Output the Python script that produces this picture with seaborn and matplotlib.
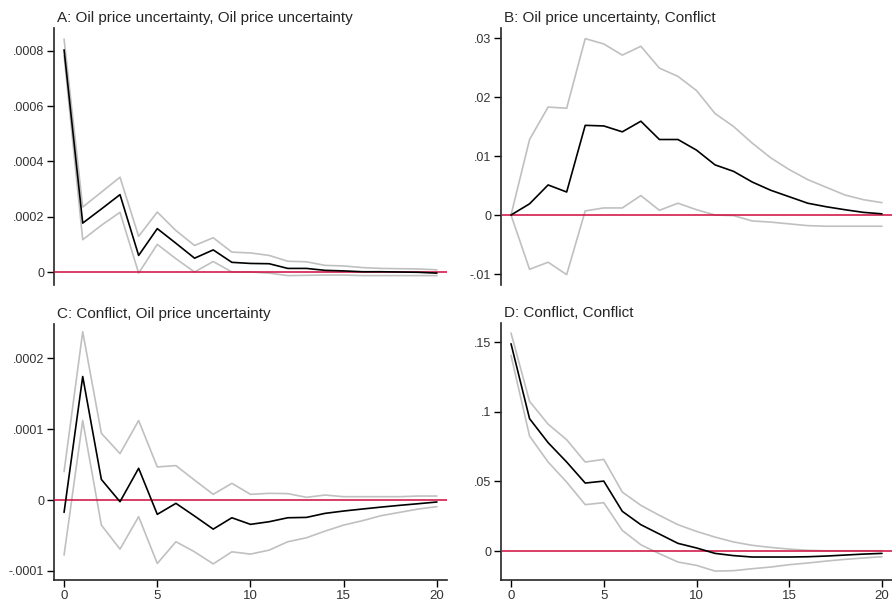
import matplotlib
matplotlib.use("Agg")
import matplotlib.pyplot as plt
import seaborn as sns
import pandas as pd

steps = list(range(21))

# A: Oil price uncertainty -> Oil price uncertainty
a_irf = [0.000804, 0.000177, 0.000228, 0.000280, 0.000060, 0.000157, 0.000104, 0.000050,
         0.000080, 0.000035, 0.000031, 0.000030, 0.000013, 0.000013, 0.000006, 0.000004,
         0.000001, 0.000001, 0.0, -0.000001, -0.000004]
a_upper = [0.000843, 0.000235, 0.000289, 0.000343, 0.000129, 0.000217, 0.000150, 0.000096,
           0.000124, 0.000072, 0.000069, 0.000060, 0.000039, 0.000037, 0.000024, 0.000022,
           0.000016, 0.000013, 0.000012, 0.000011, 0.000008]
a_lower = [0.000783, 0.000117, 0.000169, 0.000216, -0.000004, 0.000100, 0.000048, 0.0,
           0.000038, 0.0, 0.0, -0.000004, -0.000013, -0.000012, -0.000011, -0.000011,
           -0.000013, -0.000013, -0.000013, -0.000013, -0.000013]

# B: Oil price uncertainty -> Conflict
b_irf = [0.0, 0.0019, 0.0051, 0.0039, 0.0152, 0.0151, 0.0141, 0.0159, 0.0128, 0.0128, 0.0110,
         0.0085, 0.0074, 0.0056, 0.0042, 0.0031, 0.0020, 0.0014, 0.0009, 0.00045, 0.0002]
b_upper = [0.0, 0.0128, 0.0183, 0.0181, 0.0299, 0.0290, 0.0271, 0.0286, 0.0249, 0.0235, 0.0211,
           0.0172, 0.0150, 0.0122, 0.0097, 0.0077, 0.0060, 0.0047, 0.0034, 0.0026, 0.0021]
b_lower = [0.0, -0.0092, -0.0080, -0.0101, 0.0007, 0.0012, 0.0012, 0.0033, 0.0008, 0.0020, 0.0009,
           0.0, -0.0001, -0.0010, -0.0012, -0.0015, -0.0018, -0.0019, -0.0019, -0.0019, -0.0019]

# C: Conflict -> Oil price uncertainty
c_irf = [-0.0000174, 0.000174, 0.000029, -0.0000024, 0.0000447, -0.0000202, -0.0000047,
         -0.0000226, -0.000041, -0.000025, -0.0000343, -0.0000306, -0.000025, -0.0000245,
         -0.0000188, -0.0000155, -0.0000127, -0.00001, -0.0000075, -0.0000052, -0.0000028]
c_upper = [0.00004, 0.000237, 0.000094, 0.0000654, 0.000112, 0.0000466, 0.0000485, 0.000028,
           0.000008, 0.0000235, 0.000008, 0.0000094, 0.000009, 0.0000038, 0.000007, 0.0000047,
           0.0000047, 0.0000047, 0.0000047, 0.0000056, 0.0000056]
c_lower = [-0.0000776, 0.000112, -0.0000353, -0.0000692, -0.0000235, -0.0000894, -0.0000588,
           -0.000073, -0.00009, -0.000073, -0.0000762, -0.0000706, -0.0000588, -0.0000532,
           -0.0000438, -0.0000353, -0.0000292, -0.0000221, -0.0000174, -0.0000127, -0.0000094]

# D: Conflict -> Conflict
d_irf = [0.1488, 0.0950, 0.0778, 0.0639, 0.0488, 0.0502, 0.0285, 0.0189, 0.0122, 0.0055, 0.0022,
         -0.0017, -0.0033, -0.0043, -0.0043, -0.0043, -0.0041, -0.0036, -0.0029, -0.0022, -0.0017]
d_upper = [0.1565, 0.1074, 0.0911, 0.0799, 0.0639, 0.0658, 0.0423, 0.0328, 0.0256, 0.0189, 0.0141,
           0.0100, 0.0065, 0.0041, 0.0026, 0.0014, 0.0005, 0.0002, 0.0002, 0.0002, 0.0002]
d_lower = [0.1404, 0.0825, 0.0639, 0.0495, 0.0333, 0.0347, 0.0148, 0.0045, -0.0019, -0.0079, -0.0103,
           -0.0144, -0.0141, -0.0127, -0.0115, -0.0098, -0.0086, -0.0072, -0.0060, -0.0050, -0.0041]

PANELS = [
    ("A: Oil price uncertainty, Oil price uncertainty", a_irf, a_upper, a_lower,
     [0, 0.0002, 0.0004, 0.0006, 0.0008], ["0", ".0002", ".0004", ".0006", ".0008"], (-0.000047, 0.000883)),
    ("B: Oil price uncertainty, Conflict", b_irf, b_upper, b_lower,
     [-0.01, 0, 0.01, 0.02, 0.03], ["-.01", "0", ".01", ".02", ".03"], (-0.01186, 0.0317)),
    ("C: Conflict, Oil price uncertainty", c_irf, c_upper, c_lower,
     [-0.0001, 0, 0.0001, 0.0002], ["-.0001", "0", ".0001", ".0002"], (-0.0001127, 0.000248)),
    ("D: Conflict, Conflict", d_irf, d_upper, d_lower,
     [0, 0.05, 0.1, 0.15], ["0", ".05", ".1", ".15"], (-0.0208, 0.1637)),
]

# axes boxes in pixels: left, top, right, bottom
BOXES = [(54, 28, 447, 285), (501, 28, 892, 285), (54, 324, 447, 580), (501, 323, 892, 580)]
W, H = 892, 603

sns.set_style("ticks")
plt.rcParams['font.family'] = ['Liberation Sans', 'DejaVu Sans']

fig = plt.figure(figsize=(W / 100, H / 100), dpi=100)

for i, (title, irf, upper, lower, yt, ytl, ylim) in enumerate(PANELS):
    l, t, r, b = BOXES[i]
    ax = fig.add_axes([l / W, 1 - b / H, (r - l) / W, (b - t) / H])
    df = pd.DataFrame({"step": steps * 3,
                       "value": upper + lower + irf,
                       "series": ["upper"] * 21 + ["lower"] * 21 + ["irf"] * 21})
    bands = df[df.series != "irf"]
    sns.lineplot(data=bands, x="step", y="value", hue="series",
                 palette={"upper": "#c0c0c0", "lower": "#c0c0c0"},
                 linewidth=1.2, legend=False, ax=ax, zorder=2)
    ax.axhline(0, color="#d00a3c", linewidth=1.1, zorder=3)
    sns.lineplot(data=df[df.series == "irf"], x="step", y="value", color="black",
                 linewidth=1.2, legend=False, ax=ax, zorder=4)

    ax.set_xlim(-0.54, 20.54)
    ax.set_ylim(*ylim)
    ax.set_yticks(yt)
    ax.set_yticklabels(ytl)
    ax.set_xlabel("")
    ax.set_ylabel("")
    ax.set_title(title, loc="left", fontsize=11, pad=4, x=0.008)
    ax.tick_params(axis="y", length=5, width=1, labelsize=9, colors="black",
                   labelcolor="#333333", pad=2)
    for s in ["top", "right"]:
        ax.spines[s].set_visible(False)
    ax.spines["left"].set_linewidth(1.2)
    if i < 2:
        ax.spines["bottom"].set_visible(False)
        ax.set_xticks([])
    else:
        ax.spines["bottom"].set_linewidth(1.2)
        ax.set_xticks([0, 5, 10, 15, 20])
        ax.set_xticklabels(["0", "5", "10", "15", "20"])
        ax.tick_params(axis="x", length=5, width=1, labelsize=9.5, colors="black",
                       labelcolor="#333333", pad=2)

fig.savefig("out.png", dpi=100)
